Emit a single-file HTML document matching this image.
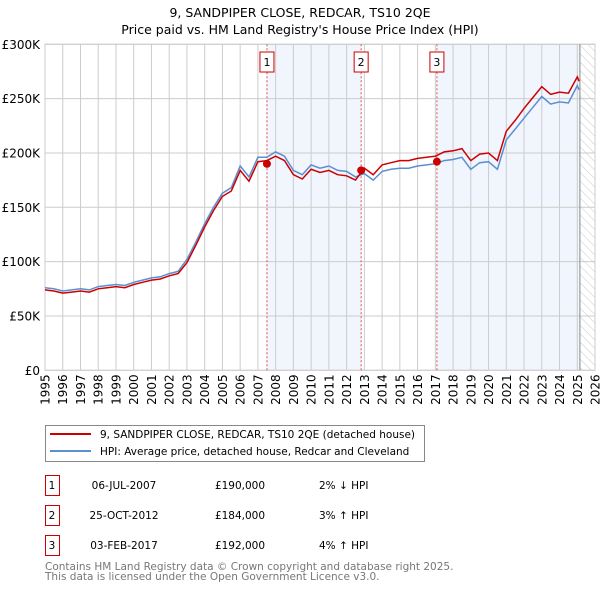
<!DOCTYPE html>
<html><head><meta charset="utf-8">
<style>
body{margin:0;background:#fff;width:600px;height:590px;overflow:hidden;font-family:"DejaVu Sans","Liberation Sans",sans-serif;}
svg text{font-family:"DejaVu Sans","Liberation Sans",sans-serif;}
</style></head>
<body>
<svg id="chart" width="600" height="590" xmlns="http://www.w3.org/2000/svg">
<defs>
<pattern id="hatch" patternUnits="userSpaceOnUse" width="6" height="6" patternTransform="rotate(-45)">
<line x1="0" y1="0" x2="0" y2="6" stroke="#bbb" stroke-width="0.8"/>
</pattern>
</defs>
<text x="300" y="17" text-anchor="middle" font-size="12.5">9, SANDPIPER CLOSE, REDCAR, TS10 2QE</text>
<text x="300" y="34" text-anchor="middle" font-size="12.5">Price paid vs. HM Land Registry's House Price Index (HPI)</text>
<g id="plot"></g>
<g>
<rect x="45.5" y="425.5" width="379" height="36" fill="#fff" stroke="#888"/>
<line x1="50" y1="434" x2="91" y2="434" stroke="#cc0000" stroke-width="2"/>
<text x="100" y="438" font-size="10.5">9, SANDPIPER CLOSE, REDCAR, TS10 2QE (detached house)</text>
<line x1="50" y1="451" x2="91" y2="451" stroke="#5b8fd0" stroke-width="2"/>
<text x="100" y="455" font-size="10.5">HPI: Average price, detached house, Redcar and Cleveland</text>
</g>
<g id="table" font-size="10.5"></g>
<text x="45" y="570" font-size="10.5" fill="#777">Contains HM Land Registry data © Crown copyright and database right 2025.</text>
<text x="45" y="580" font-size="10.5" fill="#777">This data is licensed under the Open Government Licence v3.0.</text>
</svg>
<script>
const yearsHalf = [1995,1995.5,1996,1996.5,1997,1997.5,1998,1998.5,1999,1999.5,2000,2000.5,2001,2001.5,2002,2002.5,2003,2003.5,2004,2004.5,2005,2005.5,2006,2006.5,2007,2007.5,2008,2008.5,2009,2009.5,2010,2010.5,2011,2011.5,2012,2012.5,2013,2013.5,2014,2014.5,2015,2015.5,2016,2016.5,2017,2017.5,2018,2018.5,2019,2019.5,2020,2020.5,2021,2021.5,2022,2022.5,2023,2023.5,2024,2024.5,2025,2025.1];
const hpiValues = [76,75,73,74,75,74,77,78,79,78,81,83,85,86,89,91,102,118,135,150,163,168,188,178,196,196,201,197,184,180,189,186,188,184,183,178,181,175,183,185,186,186,188,189,190,193,194,196,185,191,192,185,212,222,232,242,252,245,247,246,262,258];
const propValues = [74,73,71,72,73,72,75,76,77,76,79,81,83,84,87,89,99,115,132,147,160,165,184,174,192,193,197,193,180,176,185,182,184,180,179,175,186,180,189,191,193,193,195,196,197,201,202,204,193,199,200,193,220,230,241,251,261,254,256,255,270,266];
const saleYears = [2007.51,2012.82,2017.09];
const salePrices = [190,184,192];
const saleDates = ["06-JUL-2007","25-OCT-2012","03-FEB-2017"];
const salePriceLabels = ["£190,000","£184,000","£192,000"];
const saleHpi = ["2% ↓ HPI","3% ↑ HPI","4% ↑ HPI"];
const yTicks = [0,50,100,150,200,250,300];
const yTickLabels = ["£0","£50K","£100K","£150K","£200K","£250K","£300K"];
const xTicks = [1995,1996,1997,1998,1999,2000,2001,2002,2003,2004,2005,2006,2007,2008,2009,2010,2011,2012,2013,2014,2015,2016,2017,2018,2019,2020,2021,2022,2023,2024,2025,2026];
const dataEnd = 2025.15;

const NS="http://www.w3.org/2000/svg";
const X0=45,X1=595,Y0=370.3,Y1=44.3;
const xS=v=>X0+(v-1995)/(2026-1995)*(X1-X0);
const yS=v=>Y0-(v/300)*(Y0-Y1);
const plot=document.getElementById('plot');
function mk(tag,attrs,parent){const e=document.createElementNS(NS,tag);for(const k in attrs)e.setAttribute(k,attrs[k]);(parent||plot).appendChild(e);return e;}

let r=mk('rect',{x:X0,y:Y1,width:X1-X0,height:Y0-Y1,fill:'#fff'});


r=mk('rect',{x:xS(saleYears[0]),y:Y1,width:xS(saleYears[1])-xS(saleYears[0]),height:Y0-Y1,fill:'#eef2fc',opacity:0.8});


r=mk('rect',{x:xS(saleYears[2]),y:Y1,width:xS(dataEnd)-xS(saleYears[2]),height:Y0-Y1,fill:'#eef2fc',opacity:0.8});


r=mk('rect',{x:xS(dataEnd),y:Y1,width:X1-xS(dataEnd),height:Y0-Y1,fill:'url(#hatch)'});



xTicks.forEach(t=>{
 const l=mk('line',{x1:xS(t),x2:xS(t),y1:Y1,y2:Y0,stroke:'#ccc','stroke-width':1});
 
 
 const tx=mk('text',{x:0,y:0,'font-size':12,'text-anchor':'end',transform:`translate(${xS(t)+4.5},${Y0+4}) rotate(-90)`});
 tx.textContent=t;
 
 
});
yTicks.forEach((t,i)=>{
 const l=mk('line',{x1:X0,x2:X1,y1:yS(t),y2:yS(t),stroke:'#ccc','stroke-width':1});
 
 
 const tx=mk('text',{x:40,y:yS(t)+4.5,'font-size':12,'text-anchor':'end'});
 tx.textContent=yTickLabels[i];
 
 
});
r=mk('rect',{x:X0,y:Y1,width:X1-X0,height:Y0-Y1,fill:'none',stroke:'#ccc'});


let l=mk('line',{x1:xS(dataEnd),x2:xS(dataEnd),y1:Y1,y2:Y0,stroke:'#888','stroke-width':1});



saleYears.forEach((s,i)=>{
 const v=mk('line',{x1:xS(s),x2:xS(s),y1:Y1,y2:Y0,stroke:'#e05050','stroke-width':1,'stroke-dasharray':'2,2'});
 
 
 const b=mk('rect',{x:xS(s)-7,y:52,width:14,height:20,fill:'#fff',stroke:'#cc0000'});
 
 
 const t=mk('text',{x:xS(s),y:66,'font-size':11,'text-anchor':'middle'});
 t.textContent=i+1;
 
 
});

const pts=vals=>vals.map((v,i)=>xS(yearsHalf[i]).toFixed(1)+','+yS(v).toFixed(1)).join(' ');
let p=mk('polyline',{points:pts(hpiValues),fill:'none',stroke:'#5b8fd0','stroke-width':1.5});


p=mk('polyline',{points:pts(propValues),fill:'none',stroke:'#cc0000','stroke-width':1.5});


saleYears.forEach((s,i)=>{
 const c=mk('circle',{cx:xS(s),cy:yS(salePrices[i]),r:4,fill:'#cc0000'});
 
 
});

const tbl=document.getElementById('table');
saleYears.forEach((s,i)=>{
 const y=475+i*30;
 const b=mk('rect',{x:45.5,y:y+0.5,width:14,height:20,fill:'#fff',stroke:'#cc0000'},tbl);
 
 
 const cells=[[52,'middle',String(i+1)],[124,'middle',saleDates[i]],[240,'middle',salePriceLabels[i]],[319,'start',saleHpi[i]]];
 cells.forEach(c=>{
  const t=mk('text',{x:c[0],y:y+14,'text-anchor':c[1]},tbl);
  t.textContent=c[2];
  
  
 });
});
</script>
</body></html>
